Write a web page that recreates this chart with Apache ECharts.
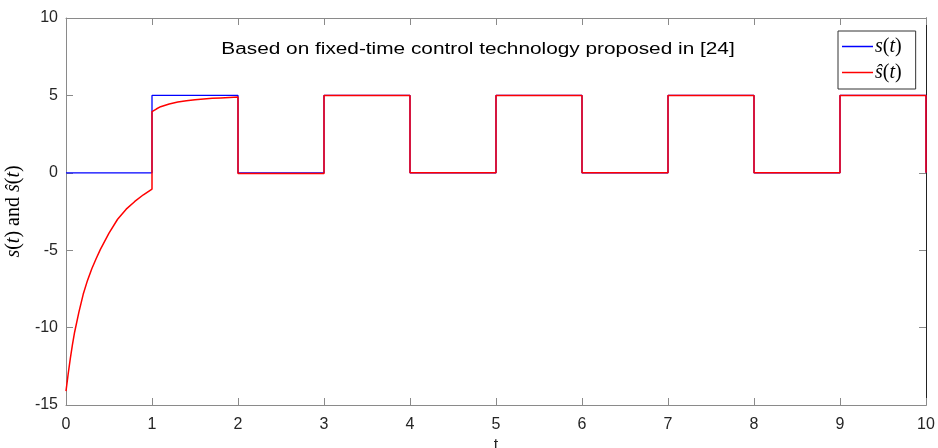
<!DOCTYPE html>
<html>
<head>
<meta charset="utf-8">
<script src="https://cdn.jsdelivr.net/npm/echarts@6/dist/echarts.min.js"></script>
<style>
  html, body { margin: 0; padding: 0; background: #fff; overflow: hidden; }
  #chart { width: 938px; height: 448px; }
</style>
</head>
<body>
<div id="chart"></div>
<script>
// Reference signal s(t): square wave switching between 0 and 5
const sigT = [0, 1, 1, 2, 2, 3, 3, 4, 4, 5, 5, 6, 6, 7, 7, 8, 8, 9, 9, 10, 10];
const sigS = [0, 0, 5, 5, 0, 0, 5, 5, 0, 0, 5, 5, 0, 0, 5, 5, 0, 0, 5, 5, 0];

// Estimate ŝ(t): transient over [0, 2], then tracks s(t)
const estT = [0, 0.025, 0.05, 0.075, 0.1, 0.15, 0.2, 0.25, 0.3, 0.35, 0.4, 0.5, 0.6, 0.7, 0.8, 0.9, 1.0,
              1.0, 1.05, 1.1, 1.2, 1.3, 1.4, 1.5, 1.6, 1.7, 1.8, 1.9, 2.0,
              2.0, 3, 3, 4, 4, 5, 5, 6, 6, 7, 7, 8, 8, 9, 9, 10, 10];
const estS = [-14.1, -13.0, -12.0, -11.1, -10.3, -9.0, -7.85, -6.95, -6.2, -5.55, -4.95, -3.9, -3.0, -2.35, -1.85, -1.42, -1.05,
              3.95, 4.12, 4.27, 4.45, 4.57, 4.65, 4.72, 4.77, 4.81, 4.84, 4.87, 4.89,
              -0.05, -0.05, 5, 5, 0, 0, 5, 5, 0, 0, 5, 5, 0, 0, 5, 5, 0];

const xTicks = { min: 0, max: 10, step: 1 };
const yTicks = { min: -15, max: 10, step: 5 };

const titleText = 'Based on fixed-time control technology proposed in [24]';

const pair = (xs, ys) => xs.map((x, i) => [x, ys[i]]);

const chart = echarts.init(document.getElementById('chart'), null, { renderer: 'canvas' });

const sansFont = '"Liberation Sans", Arial, Helvetica, sans-serif';
const serifFont = '"Liberation Serif", "DejaVu Serif", serif';
const axisGrey = '#8a8a8a';

const legendRich = {
  i: { fontFamily: serifFont, fontStyle: 'italic', fontSize: 20, color: '#000' },
  r: { fontFamily: serifFont, fontSize: 20, color: '#000' }
};
const nameRich = {
  i: { fontFamily: serifFont, fontStyle: 'italic', fontSize: 20, color: '#000' },
  r: { fontFamily: serifFont, fontSize: 20, color: '#000' }
};

chart.setOption({
  animation: false,
  backgroundColor: '#fff',
  grid: { left: 66, right: 12, top: 18, bottom: 43, containLabel: false, outerBoundsMode: 'none' },
  graphic: [{
    type: 'text',
    x: 478,
    y: 50,
    scaleX: 1.3,
    style: {
      text: titleText,
      font: '16px ' + sansFont,
      fill: '#000',
      align: 'center',
      verticalAlign: 'middle'
    }
  }],
  legend: {
    left: 838,
    top: 31,
    orient: 'vertical',
    icon: 'rect',
    itemWidth: 31,
    itemHeight: 1.5,
    itemGap: 5,
    padding: [5, 14, 6, 4],
    borderColor: '#333',
    borderWidth: 1,
    backgroundColor: '#fff',
    borderRadius: 0,
    textStyle: { rich: legendRich, padding: [0, 0, 0, -3], lineHeight: 21 },
    formatter: function (name) {
      return name === 's(t)'
        ? '{i|s}{r|(}{i|t}{r|)}'
        : '{i|ŝ}{r|(}{i|t}{r|)}';
    },
    data: ['s(t)', 'ŝ(t)']
  },
  xAxis: [{
    type: 'value',
    min: xTicks.min, max: xTicks.max, interval: xTicks.step,
    name: 't',
    nameLocation: 'middle',
    nameGap: 27,
    nameTextStyle: { fontFamily: sansFont, fontSize: 16, color: '#262626' },
    axisLine: { show: true, onZero: false, lineStyle: { color: axisGrey, width: 1 } },
    axisTick: { show: true, inside: true, length: 7, lineStyle: { color: axisGrey } },
    axisLabel: { margin: 12, fontFamily: sansFont, fontSize: 16, color: '#262626' },
    splitLine: { show: false }
  }, {
    type: 'value',
    position: 'top',
    min: xTicks.min, max: xTicks.max, interval: xTicks.step,
    axisLine: { show: true, onZero: false, lineStyle: { color: axisGrey, width: 1 } },
    axisTick: { show: true, inside: true, length: 7, lineStyle: { color: axisGrey } },
    axisLabel: { show: false },
    splitLine: { show: false }
  }],
  yAxis: [{
    type: 'value',
    min: yTicks.min, max: yTicks.max, interval: yTicks.step,
    name: '{i|s}{r|(}{i|t}{r|) and }{i|ŝ}{r|(}{i|t}{r|)}',
    nameLocation: 'middle',
    nameGap: 29,
    nameRotate: 90,
    nameTextStyle: { rich: nameRich },
    axisLine: { show: true, onZero: false, lineStyle: { color: axisGrey, width: 1 } },
    axisTick: { show: true, inside: true, length: 7, lineStyle: { color: axisGrey } },
    axisLabel: { margin: 8, fontFamily: sansFont, fontSize: 16, color: '#262626' },
    splitLine: { show: false }
  }, {
    type: 'value',
    position: 'right',
    min: yTicks.min, max: yTicks.max, interval: yTicks.step,
    axisLine: { show: true, onZero: false, lineStyle: { color: '#222', width: 1 } },
    axisTick: { show: true, inside: true, length: 7, lineStyle: { color: axisGrey } },
    axisLabel: { show: false },
    splitLine: { show: false }
  }],
  series: [{
    name: 's(t)',
    type: 'line',
    data: pair(sigT, sigS),
    symbol: 'none',
    lineStyle: { color: '#0000ff', width: 1.3 },
    itemStyle: { color: '#0000ff' },
    clip: true
  }, {
    name: 'ŝ(t)',
    type: 'line',
    data: pair(estT, estS),
    symbol: 'none',
    lineStyle: { color: '#ff0000', width: 1.5 },
    itemStyle: { color: '#ff0000' },
    clip: true
  }]
});
</script>
</body>
</html>
